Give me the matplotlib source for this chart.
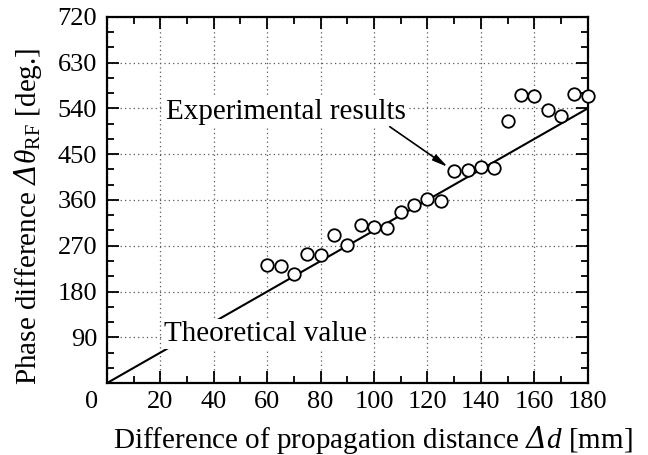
import matplotlib
matplotlib.use("Agg")
import matplotlib.pyplot as plt
from matplotlib.ticker import MultipleLocator
from matplotlib.transforms import ScaledTranslation

plt.rcParams['font.family'] = ['Liberation Serif', 'DejaVu Serif']
plt.rcParams['mathtext.fontset'] = 'custom'
plt.rcParams['mathtext.rm'] = 'Liberation Serif'
plt.rcParams['mathtext.it'] = 'Liberation Serif:italic'
# slanted capital delta
plt.rcParams['mathtext.sf'] = 'DejaVu Serif:italic'

# measured phase difference vs propagation distance
dist_mm = [60, 65, 70, 75, 80, 85, 90, 95, 100, 105, 110, 115, 120, 125,
           130, 135, 140, 145, 150, 155, 160, 165, 170, 175, 180]
phase_deg = [232, 231, 215, 254, 251, 292, 271, 310, 306, 304, 337, 351, 362, 358,
             417, 419, 425, 423, 516, 567, 565, 537, 526, 569, 564]

# theoretical value (straight line)
theory_x = [0, 180]
theory_y = [0, 540]

x_ticks = [0, 20, 40, 60, 80, 100, 120, 140, 160, 180]
y_ticks = [0, 90, 180, 270, 360, 450, 540, 630, 720]

fig = plt.figure(figsize=(6.48, 4.55), dpi=100)
ax = fig.add_axes([0.165, 0.158, 0.742, 0.805])

ax.plot(theory_x, theory_y, color='black', lw=1.5, zorder=2)
ax.plot(dist_mm, phase_deg, 'o', ms=9, mfc='white', mec='black', mew=1.3,
        zorder=4, clip_on=False)

ax.set_xlim(0, 180)
ax.set_ylim(0, 720)
ax.set_xticks(x_ticks)
ax.set_yticks(y_ticks)
ax.set_xticklabels([str(v) for v in x_ticks])
ax.set_yticklabels([''] + [str(v) for v in y_ticks[1:]])
ax.xaxis.set_minor_locator(MultipleLocator(10))
ax.yaxis.set_minor_locator(MultipleLocator(30))
ax.tick_params(which='both', direction='in', top=True, right=True,
               labelsize=19, width=1.3, color='black')
ax.tick_params(which='major', length=8.5, pad=6)
ax.tick_params(which='minor', length=5)
ax.tick_params(axis='y', pad=7)
# shared "0" at the corner sits left of the x tick
lbl0 = ax.get_xticklabels()[0]
lbl0.set_transform(lbl0.get_transform() + ScaledTranslation(-11 / 72, 0, fig.dpi_scale_trans))

for s in ax.spines.values():
    s.set_linewidth(1.6)

ax.grid(True, which='major', linestyle=(0, (1, 2.5)), color='0.35', lw=0.9)
ax.set_axisbelow(True)

ax.set_xlabel(r'Difference of propagation distance $\mathsf{Δ}\mathit{d}$ [mm]',
              fontsize=21)
ax.set_ylabel(r'Phase difference $\mathsf{Δ}\mathit{θ}_{\mathrm{RF}}$ [deg.]',
              fontsize=21)
ax.xaxis.set_label_coords(0.553, -0.113)
ax.yaxis.set_label_coords(-0.13, 0.455)

box = dict(facecolor='white', edgecolor='none', pad=1.5)
ax.text(21.5, 82, 'Theoretical value', fontsize=21, ha='left', va='baseline',
        bbox=box, zorder=3)
ax.text(22, 520, 'Experimental results', fontsize=21, ha='left', va='baseline',
        bbox=box, zorder=3)
ax.annotate('', xy=(127.6, 425), xytext=(105.9, 504),
            arrowprops=dict(arrowstyle='-|>,head_length=0.9,head_width=0.2',
                            color='black', lw=1.2, shrinkA=0, shrinkB=0),
            zorder=5)

fig.savefig('out.png', dpi=100)
